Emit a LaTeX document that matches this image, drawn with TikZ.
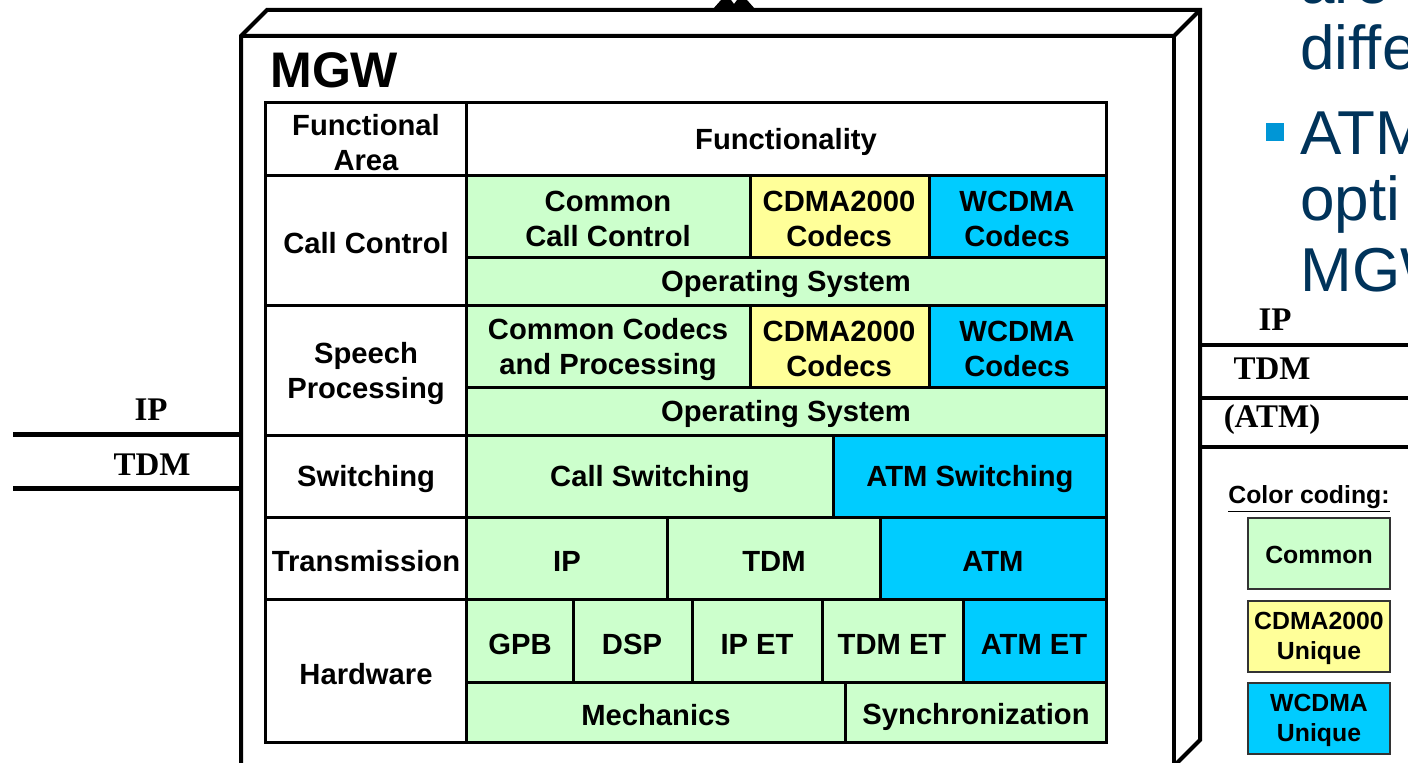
\documentclass[tikz,border=0pt]{standalone}
\usepackage{fontspec}
\setmainfont{Liberation Serif}
\setsansfont{Liberation Sans}
\definecolor{common}{RGB}{204,255,204}
\definecolor{cdma}{RGB}{255,255,153}
\definecolor{wcdma}{RGB}{0,204,255}
\definecolor{slidetext}{RGB}{0,51,90}
\definecolor{bullet}{RGB}{0,150,214}

\begin{document}
\begin{tikzpicture}[x=0.5pt,y=-0.5pt,
  cell/.style={draw=black,line width=1.5pt},
  lbl/.style={font=\sffamily\bfseries\fontsize{14.6}{17.5}\selectfont,align=center,inner sep=0pt,yshift=-1.2pt},
  iface/.style={font=\rmfamily\bfseries\fontsize{16.5}{18}\selectfont,inner sep=0pt},
  lgdbox/.style={draw=black!80,line width=0.75pt},
  lgd/.style={font=\sffamily\bfseries\fontsize{12.4}{15}\selectfont,align=center,inner sep=0pt},
  slide/.style={font=\sffamily\fontsize{31}{33}\selectfont,text=slidetext,anchor=base west,inner sep=0pt}]
 \path[use as bounding box] (0,0) rectangle (1408,763);
 \clip (0,0) rectangle (1408,763);

 % MGW box
 \draw[line width=2pt] (241,790)--(241,36)--++(26,-26)--(1200,10)--(1200,740)--(1174,766);
 \draw[line width=2pt] (241,36)--(1174,36)--(1200,10);
 \draw[line width=2pt] (1174,36)--(1174,790);
 \fill (713,9)--(721,0)--(731,0)--(734,4)--(737,0)--(747,0)--(755,9)--cycle;
 \node[font=\sffamily\bfseries\fontsize{25}{30}\selectfont,anchor=base west,inner sep=0pt] (mgw) at (270,88) {MGW};

 %%%%%%%%%%%%%%%%%%%%%%%%%%%%%%%%%%%
 % header
 \draw[cell,fill=white] (265,103) rectangle (466,176);
 \draw[cell,fill=white] (466,103) rectangle (1106,176);
 \node[lbl] (area) at (366,140) {Functional\\Area};
 \node[lbl] (func) at (786,140) {Functionality};

 % call control
 \draw[cell,fill=white] (265,176) rectangle (466,306);
 \draw[cell,fill=common] (466,176) rectangle (750,258);
 \draw[cell,fill=cdma] (750,176) rectangle (929,258);
 \draw[cell,fill=wcdma] (929,176) rectangle (1106,258);
 \draw[cell,fill=common] (466,258) rectangle (1106,306);
 \node[lbl] (cc) at (366,241) {Call Control};
 \node[lbl] (ccom) at (608,217) {Common\\Call Control};
 \node[lbl] (ccdma) at (839,217) {CDMA2000\\Codecs};
 \node[lbl] (cwcdma) at (1017,217) {WCDMA\\Codecs};
 \node[lbl] (cos) at (786,282) {Operating System};

 % speech processing
 \draw[cell,fill=white] (265,306) rectangle (466,436);
 \draw[cell,fill=common] (466,306) rectangle (750,388);
 \draw[cell,fill=cdma] (750,306) rectangle (929,388);
 \draw[cell,fill=wcdma] (929,306) rectangle (1106,388);
 \draw[cell,fill=common] (466,388) rectangle (1106,436);
 \node[lbl] (sp) at (366,371) {Speech\\Processing};
 \node[lbl] (scom) at (608,347) {Common Codecs\\and Processing};
 \node[lbl] (scdma) at (839,347) {CDMA2000\\Codecs};
 \node[lbl] (swcdma) at (1017,347) {WCDMA\\Codecs};
 \node[lbl] (sos) at (786,412) {Operating System};

 % switching
 \draw[cell,fill=white] (265,436) rectangle (466,518);
 \draw[cell,fill=common] (466,436) rectangle (833,518);
 \draw[cell,fill=wcdma] (833,436) rectangle (1106,518);
 \node[lbl] (sw) at (366,477) {Switching};
 \node[lbl] (swcall) at (650,477) {Call Switching};
 \node[lbl] (swatm) at (970,477) {ATM Switching};

 % transmission
 \draw[cell,fill=white] (265,518) rectangle (466,600);
 \draw[cell,fill=common] (466,518) rectangle (667,600);
 \draw[cell,fill=common] (667,518) rectangle (880,600);
 \draw[cell,fill=wcdma] (880,518) rectangle (1106,600);
 \node[lbl] (tr) at (366,559) {Transmission};
 \node[lbl] (trip) at (567,559) {IP};
 \node[lbl] (trtdm) at (774,559) {TDM};
 \node[lbl] (tratm) at (993,559) {ATM};

 % hardware
 \draw[cell,fill=white] (265,600) rectangle (466,743);
 \draw[cell,fill=common] (466,600) rectangle (573,683);
 \draw[cell,fill=common] (573,600) rectangle (692,683);
 \draw[cell,fill=common] (692,600) rectangle (822,683);
 \draw[cell,fill=common] (822,600) rectangle (963,683);
 \draw[cell,fill=wcdma] (963,600) rectangle (1106,683);
 \draw[cell,fill=common] (466,683) rectangle (845,743);
 \draw[cell,fill=common] (845,683) rectangle (1106,743);
 \node[lbl] (hw) at (366,672) {Hardware};
 \node[lbl] (gpb) at (520,642) {GPB};
 \node[lbl] (dsp) at (632,642) {DSP};
 \node[lbl] (ipet) at (757,642) {IP ET};
 \node[lbl] (tdmet) at (892,642) {TDM ET};
 \node[lbl] (atmet) at (1034,642) {ATM ET};
 \node[lbl] (mech) at (656,713) {Mechanics};
 \node[lbl] (sync) at (976,715) {Synchronization};

 %%%%%%%%%%%%%%%%%%%%%%%%%%%%%%%%%%%
 % interfaces, left
 \draw[line width=2.5pt] (13,435)--(240,435);
 \draw[line width=2.5pt] (13,489)--(240,489);
 \node[iface] (lip) at (151,410) {IP};
 \node[iface] (ltdm) at (152,465) {TDM};
 % interfaces, right
 \draw[line width=2pt] (1199,345)--(1408,345);
 \draw[line width=2pt] (1199,398)--(1408,398);
 \draw[line width=2pt] (1199,447)--(1408,447);
 \node[iface] (rip) at (1275,320) {IP};
 \node[iface] (rtdm) at (1272,369) {TDM};
 \node[iface] (ratm) at (1272,420) {(ATM)};

 % color coding
 \node[lgd] (cctitle) at (1309,499) {\underline{Color coding:}};
 \draw[lgdbox,fill=common] (1248,518) rectangle (1390,589);
 \draw[lgdbox,fill=cdma] (1248,601) rectangle (1390,672);
 \draw[lgdbox,fill=wcdma] (1248,683) rectangle (1390,754);
 \node[lgd] (lgcom) at (1319,555) {Common};
 \node[lgd] (lgcdma) at (1319,638) {CDMA2000\\Unique};
 \node[lgd] (lgwcdma) at (1319,720) {WCDMA\\Unique};

 % slide text
 \node[slide] (t1) at (1300,4) {are};
 \node[slide] (t2) at (1300,70) {diffe};
 \fill[bullet] (1266,123) rectangle (1284,141);
 \node[slide] (t3) at (1300,155) {ATM};
 \node[slide] (t4) at (1300,221) {opti};
 \node[slide] (t5) at (1300,292) {MGW};
\end{tikzpicture}
\end{document}
